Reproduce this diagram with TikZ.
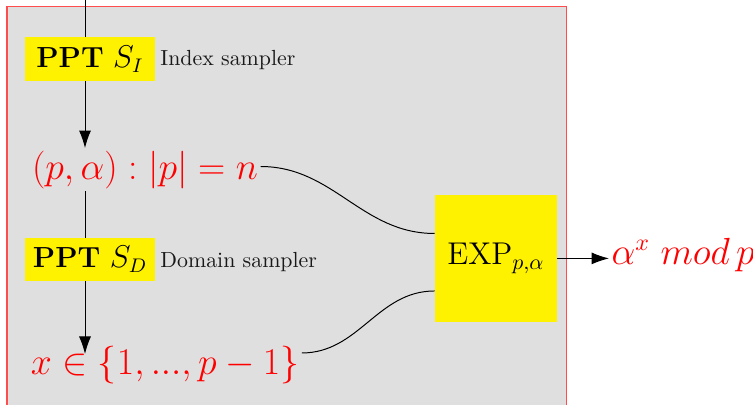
\documentclass[tikz,border=0pt]{standalone}
\usetikzlibrary{arrows.meta}
\begin{document}
\begin{tikzpicture}[x=0.4575pt,y=-0.4575pt,
  ybox/.style={fill=yellow, inner sep=0pt, minimum width=59.5pt, minimum height=19.7pt, font=\fontsize{13.3}{16}\selectfont},
  lbl/.style={anchor=base west, inner sep=0pt, font=\normalsize, text=black!90},
  rtext/.style={text=red, inner sep=1pt, font=\fontsize{16.8}{20}\selectfont},
  conn/.style={draw=black, line width=0.45pt},
  arr/.style={conn, -{Latex[length=8pt,width=5.5pt]}},
  frame/.style={fill=gray!25, draw=red!70, line width=0.6pt}]
\useasboundingbox (0,0) rectangle (753,404);
\clip (0,0) rectangle (753,404);
\fill[white] (0,0) rectangle (753,404);
\draw[frame] (7,6.5) rectangle (566.5,420);
\coordinate (top) at (85,0);
\node[rtext, anchor=base] (pa) at (145,179) {$(p,\alpha):|p|=n$};
\node[rtext, anchor=base] (xs) at (165,374) {$x\in\{1,...,p-1\}$};
\draw[arr] (top) -- (top |- pa.north);
\node[ybox] (s1) at (90,59) {\textbf{PPT} $S_I$};
\node[lbl] (l1) at (160,66) {Index sampler};
\node[ybox] (s2) at (90,259.5) {\textbf{PPT} $S_D$};
\node[lbl] (l2) at (160,267) {Domain sampler};
\draw[conn] (top |- pa.south) -- (top |- s2.north);
\draw[arr, shorten >=-5pt] (top |- s2.south) -- (top |- xs.north);
\node[ybox, minimum width=55.8pt, minimum height=58.1pt, font=\fontsize{14.4}{17}\selectfont] (exp) at (496,258.4) {EXP$_{p,\alpha}$};
\draw[conn] ([yshift=1.4pt]pa.east) to[out=0,in=180] ([yshift=11.4pt]exp.west);
\draw[conn] ([yshift=5.3pt]xs.east) to[out=0,in=180] ([yshift=-14.9pt]exp.west);
\node[rtext, anchor=base west, font=\fontsize{16}{19}\selectfont] (out) at (609,264) {$\alpha^x\;mod\,p$};
\draw[arr] (exp.east) -- (exp.east -| out.west);
\end{tikzpicture}
\end{document}
